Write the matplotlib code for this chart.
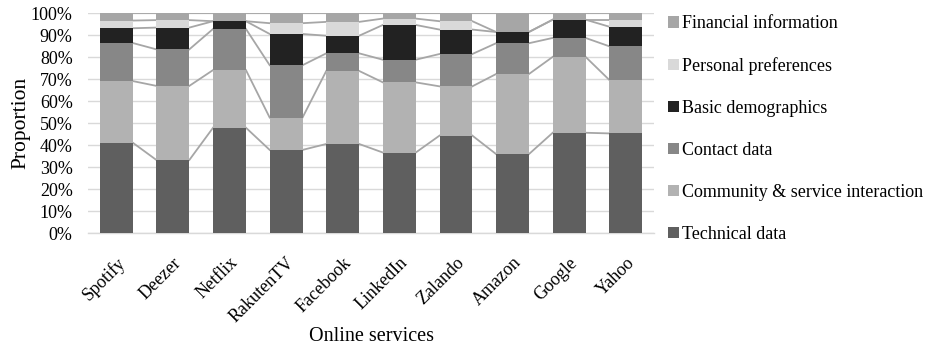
import numpy as np
import matplotlib.pyplot as plt

services = ["Spotify", "Deezer", "Netflix", "RakutenTV", "Facebook",
            "LinkedIn", "Zalando", "Amazon", "Google", "Yahoo"]

technical = [41.2, 33.3, 48.0, 37.9, 40.6, 36.7, 44.4, 36.0, 45.7, 45.4]
community = [28.0, 33.7, 26.2, 14.7, 33.2, 31.9, 22.4, 36.4, 34.5, 24.3]
contact = [17.3, 16.6, 18.7, 23.8, 8.0, 10.3, 14.7, 14.0, 8.6, 15.3]
basic = [6.7, 9.9, 3.5, 14.2, 8.0, 15.8, 11.1, 5.1, 8.3, 8.9]
personal = [3.5, 3.4, 0.0, 4.9, 6.3, 2.9, 3.8, 0.0, 0.0, 3.2]
financial = [3.3, 3.1, 3.6, 4.5, 3.9, 2.4, 3.6, 8.5, 2.9, 2.9]

series = [
    ("Technical data", technical, "#5f5f5f"),
    ("Community & service interaction", community, "#b2b2b2"),
    ("Contact data", contact, "#878787"),
    ("Basic demographics", basic, "#222222"),
    ("Personal preferences", personal, "#d9d9d9"),
    ("Financial information", financial, "#a6a6a6"),
]

plt.rcParams['font.family'] = ['Liberation Serif', 'DejaVu Serif']

fig = plt.figure(figsize=(9.28, 3.48), dpi=100)
ax = fig.add_axes([0.0948, 0.3296, 0.61, 0.6322])

x = np.arange(len(services))
w = 0.58
total = np.sum([s[1] for s in series], axis=0)
bottom = np.zeros(len(services))
handles = []
for name, vals, col in series:
    frac = np.array(vals) / total
    b = ax.bar(x, frac, w, bottom=bottom, color=col, label=name, zorder=3)
    handles.append(b)
    bottom = bottom + frac
    # series lines between bars
    for i in range(len(services) - 1):
        ax.plot([x[i] + w / 2, x[i + 1] - w / 2], [bottom[i], bottom[i + 1]],
                color="#a6a6a6", lw=1.3, zorder=2)

ax.set_xlim(-0.5, len(services) - 0.5)
ax.set_ylim(0, 1)
yt = np.arange(0, 1.01, 0.1)
ax.set_yticks(yt)
ax.set_yticklabels([f"{int(round(v * 100))}%" for v in yt])
ax.yaxis.grid(True, color="#d9d9d9", lw=1, zorder=0)
ax.set_xticks(x)
ax.set_xticklabels(services, rotation=45, ha="right", rotation_mode="anchor")
ax.tick_params(axis="both", length=0, labelsize=13, colors="black")
ax.tick_params(axis="y", pad=11)
ax.tick_params(axis="x", pad=15)
for s in ["top", "right", "left"]:
    ax.spines[s].set_visible(False)
ax.spines["bottom"].set_color("#d9d9d9")
ax.spines["bottom"].set_linewidth(1)

ax.set_ylabel("Proportion", fontsize=15.5, labelpad=0.5)
ax.set_xlabel("Online services", fontsize=14.5, labelpad=1)

leg = fig.legend(handles[::-1], [s[0] for s in series][::-1],
                 loc="upper left", bbox_to_anchor=(0.702, 1.003),
                 frameon=False, fontsize=13, handlelength=0.6,
                 handleheight=0.6, handletextpad=0.2, labelspacing=1.38)

fig.savefig("out.png", dpi=100)
